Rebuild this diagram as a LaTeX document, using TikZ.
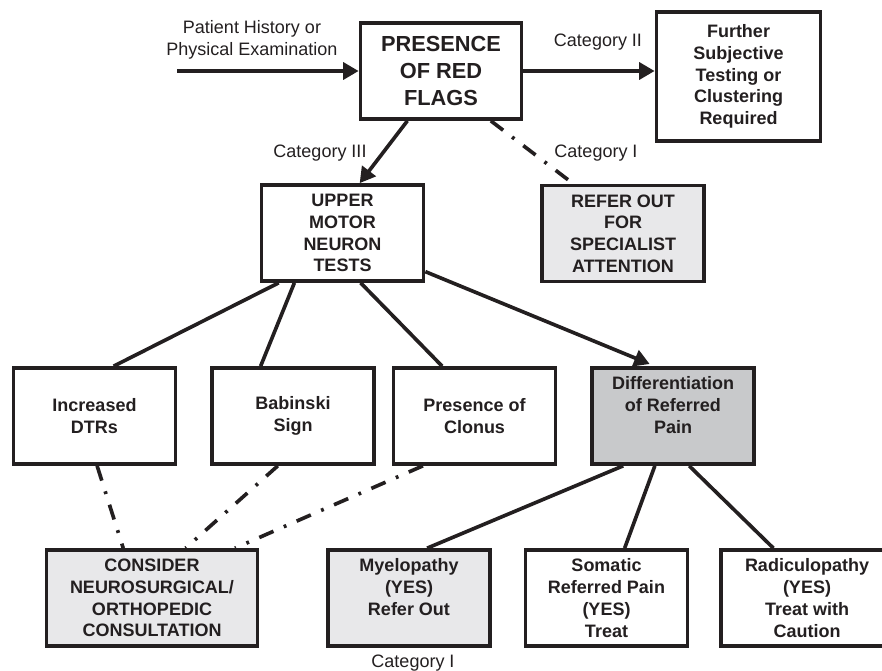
\documentclass[tikz,border=0pt]{standalone}
\usepackage{fontspec}
\setmainfont{Liberation Sans}
\usepackage{xcolor}
\usepackage{tikz}
\usetikzlibrary{arrows.meta}
\definecolor{inkblack}{RGB}{35,31,32}
\definecolor{lightgrey}{RGB}{232,232,234}
\definecolor{midgrey}{RGB}{200,201,203}

\begin{document}
\begin{tikzpicture}[
    x=0.025cm, y=-0.025cm,
    font=\fontsize{12.8}{15.5}\selectfont,
    blok/.style={draw=inkblack, line width=2.6pt, align=center, minimum width=4.05cm,
                 minimum height=2.4cm, inner sep=2pt, text=inkblack,
                 font=\fontsize{12.8}{15.5}\selectfont\bfseries},
    panah/.style={-{Triangle[length=11pt, width=12pt]}, inkblack, line width=2.6pt},
    garis/.style={inkblack, line width=2.6pt},
    putus/.style={inkblack, line width=2.6pt,
                  dash pattern=on 11pt off 8pt on 2pt off 8pt},
    ket/.style={text=inkblack, align=center}
  ]
    \useasboundingbox (0,0) rectangle (882,671);

    % top row
    \node[blok, minimum width=4.025cm, font=\fontsize{15.5}{19}\selectfont\bfseries]
      (flag) at (441,71) {PRESENCE\\OF RED\\FLAGS};
    \node[blok, minimum width=4.1cm, minimum height=3.22cm] (lanjut) at (738.5,76.5)
      {Further\\Subjective\\Testing or\\Clustering\\Required};
    \coordinate (asal) at (177,71);
    \node[ket] (asalket) at (252,40) {Patient History or\\Physical Examination};
    \draw[panah] (asal) -- (flag.west);
    \draw[panah] (flag.east) -- (flag.east -| lanjut.west);
    \node[ket] (kat2) at (598,42) {Category II};

    % second row
    \node[blok] (umn) at (342.5,233) {UPPER\\MOTOR\\NEURON\\TESTS};
    \node[blok, fill=lightgrey] (rujuk) at (623,233.5) {REFER OUT\\FOR\\SPECIALIST\\ATTENTION};
    \draw[panah] (flag.-124) -- (umn.71);
    \draw[putus] (flag.-45) -- (rujuk.135);
    \node[ket] (kat3) at (320,153) {Category III};
    \node[ket] (kat1) at (596,153) {Category I};

    % tests
    \node[blok] (dtr) at (94.5,416) {Increased\\DTRs};
    \node[blok] (bab) at (293,416) {Babinski\\Sign};
    \node[blok] (klon) at (474.5,416) {Presence of\\Clonus};
    \node[blok, fill=midgrey] (dif) at (673,416) {Differentiation\\of Referred\\Pain\\\mbox{}};
    \draw[garis] (umn.-142.6) -- (dtr.69.7);
    \draw[garis] (umn.-134.7) -- (bab.123.4);
    \draw[garis] (umn.-70.7) -- (klon.123.8);
    \draw[panah, shorten >=4pt] (umn.-25.6) -- (dif.110.8);

    % bottom row
    \node[blok, fill=lightgrey, minimum width=5.275cm] (kons) at (152,598)
      {CONSIDER\\NEUROSURGICAL/\\ORTHOPEDIC\\CONSULTATION};
    \node[blok, fill=lightgrey] (mye) at (409,598) {Myelopathy\\(YES)\\Refer Out\\\mbox{}};
    \node[blok] (som) at (606.5,598) {Somatic\\Referred Pain\\(YES)\\Treat};
    \node[blok, minimum width=4.3cm] (rad) at (807,598) {Radiculopathy\\(YES)\\Treat with\\Caution};
    \node[ket] (kat1b) at (413,663) {Category I};
    \draw[putus] (dtr.-87) -- (kons.120);
    \draw[putus] (bab.-107.7) -- (kons.56.6);
    \draw[putus] (klon.-136.9) -- (kons.31);
    \draw[garis] (dif.-135) -- (mye.70.2);
    \draw[garis] (dif.-110.8) -- (som.70.7);
    \draw[garis] (dif.-72.3) -- (rad.124.2);
  \end{tikzpicture}
\end{document}
